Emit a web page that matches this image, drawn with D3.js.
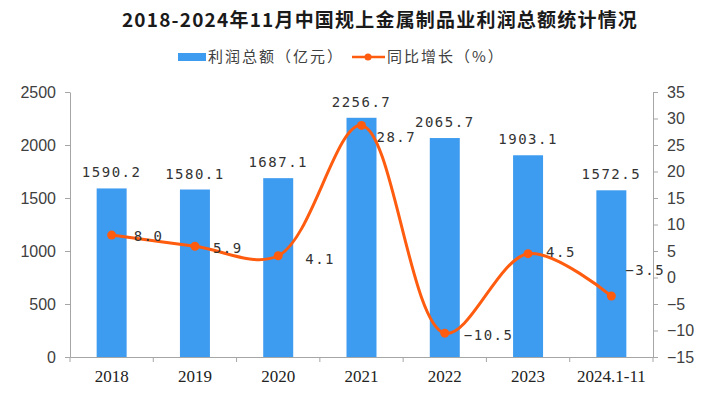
<!DOCTYPE html>
<html>
<head>
<meta charset="utf-8">
<script src="https://cdn.jsdelivr.net/npm/d3@7"></script>
<style>
  body { margin: 0; background: #fff; }
  .axis path, .axis line { stroke: #a6a6a6; }
  .axis text { fill: #404040; }
</style>
</head>
<body>
<div id="chart"></div>
<script>
var categories = ["2018", "2019", "2020", "2021", "2022", "2023", "2024.1-11"];
var profit = [1590.2, 1580.1, 1687.1, 2256.7, 2065.7, 1903.1, 1572.5];
var growth = [8.0, 5.9, 4.1, 28.7, -10.5, 4.5, -3.5];
var leftTicks = [0, 500, 1000, 1500, 2000, 2500];
var rightTicks = [-15, -10, -5, 0, 5, 10, 15, 20, 25, 30, 35];

var width = 714;
var height = 394;
var margin = { left: 70, right: 61, top: 92, bottom: 37 };

var barColor = "#3d9bf0";
var lineColor = "#ff5c0f";

var svg = d3.select("#chart").append("svg")
  .attr("width", width)
  .attr("height", height);

var x = d3.scaleBand()
  .domain(categories)
  .range([margin.left, width - margin.right])
  .paddingInner(0.64)
  .paddingOuter(0.32);

var yLeft = d3.scaleLinear()
  .domain([0, 2500])
  .range([height - margin.bottom, margin.top]);

var yRight = d3.scaleLinear()
  .domain([-15, 35])
  .range([height - margin.bottom, margin.top]);

// title
svg.append("text")
  .attr("x", 380)
  .attr("y", 27)
  .attr("text-anchor", "middle")
  .style("font-family", "'Noto Sans CJK SC', sans-serif")
  .style("font-weight", "bold")
  .style("font-size", "19px")
  .style("letter-spacing", "1.2px")
  .style("fill", "#1a1a1a")
  .text("2018-2024年11月中国规上金属制品业利润总额统计情况");

// legend
var legend = svg.append("g")
  .style("font-family", "'Noto Sans CJK SC', sans-serif")
  .style("font-size", "15px")
  .style("letter-spacing", "2px")
  .style("fill", "#404040");

legend.append("rect")
  .attr("x", 178).attr("y", 53)
  .attr("width", 28).attr("height", 8)
  .attr("fill", barColor);
var barText = legend.append("text")
  .attr("x", 208).attr("y", 62)
  .text("利润总额（亿元）");

var lx = 208 + barText.node().getComputedTextLength() + 8;
legend.append("line")
  .attr("x1", lx).attr("x2", lx + 33)
  .attr("y1", 57).attr("y2", 57)
  .attr("stroke", lineColor).attr("stroke-width", 2.5);
legend.append("circle")
  .attr("cx", lx + 16).attr("cy", 57).attr("r", 3.5)
  .attr("fill", lineColor);
legend.append("text")
  .attr("x", lx + 35).attr("y", 62)
  .text("同比增长（%）");

// axes
var leftAxis = svg.append("g")
  .attr("class", "axis")
  .attr("transform", "translate(" + margin.left + ",0)")
  .call(d3.axisLeft(yLeft).tickValues(leftTicks).tickSize(5).tickPadding(9).tickSizeOuter(0)
    .tickFormat(d3.format("d")));
leftAxis.selectAll("text")
  .style("font-family", "'Liberation Sans', Arial, sans-serif")
  .style("font-size", "16px");

var rightAxis = svg.append("g")
  .attr("class", "axis")
  .attr("transform", "translate(" + (width - margin.right) + ",0)")
  .call(d3.axisRight(yRight).tickValues(rightTicks).tickSize(5).tickPadding(9).tickSizeOuter(0)
    .tickFormat(function(d) { return d < 0 ? "\u2212" + Math.abs(d) : d; }));
rightAxis.selectAll("text")
  .style("font-family", "'Liberation Sans', Arial, sans-serif")
  .style("font-size", "16px");

var bottom = svg.append("g")
  .attr("class", "axis")
  .attr("transform", "translate(0," + (height - margin.bottom) + ")")
  .call(d3.axisBottom(x).tickSize(0).tickPadding(13));
bottom.selectAll("text")
  .style("font-family", "'Liberation Serif', serif")
  .style("font-size", "17px")
  .style("fill", "#222");

// category boundary ticks
var step = x.step();
bottom.selectAll("line.sep")
  .data(d3.range(categories.length + 1))
  .enter().append("line")
    .attr("class", "sep")
    .attr("x1", function(i) { return margin.left + i * step; })
    .attr("x2", function(i) { return margin.left + i * step; })
    .attr("y1", 0)
    .attr("y2", 5);

// bars
svg.selectAll("rect.bar")
  .data(profit)
  .enter().append("rect")
    .attr("class", "bar")
    .attr("x", function(d, i) { return x(categories[i]); })
    .attr("y", function(d) { return yLeft(d); })
    .attr("width", x.bandwidth())
    .attr("height", function(d) { return yLeft(0) - yLeft(d); })
    .attr("fill", barColor);

var labelFont = "'DejaVu Sans Mono', monospace";

svg.selectAll("text.barlabel")
  .data(profit)
  .enter().append("text")
    .attr("class", "barlabel")
    .attr("x", function(d, i) { return x(categories[i]) + x.bandwidth() / 2; })
    .attr("y", function(d) { return yLeft(d) - 11; })
    .attr("text-anchor", "middle")
    .style("font-family", labelFont)
    .style("font-size", "14px")
    .style("letter-spacing", "1.5px")
    .style("fill", "#333")
    .text(function(d) { return d.toFixed(1); });

// growth line
var cx = function(d, i) { return x(categories[i]) + x.bandwidth() / 2; };

var line = d3.line()
  .x(cx)
  .y(function(d) { return yRight(d); })
  .curve(d3.curveCatmullRom.alpha(0.5));

svg.append("path")
  .datum(growth)
  .attr("d", line)
  .attr("fill", "none")
  .attr("stroke", lineColor)
  .attr("stroke-width", 3);

svg.selectAll("circle.pt")
  .data(growth)
  .enter().append("circle")
    .attr("class", "pt")
    .attr("cx", cx)
    .attr("cy", function(d) { return yRight(d); })
    .attr("r", 4.5)
    .attr("fill", lineColor);

// label nudges so they clear the curve
var nudge = [[22, 1], [18, 2], [27, 3], [15, 12], [19, 2], [18, -2], [14, -26]];

svg.selectAll("text.linelabel")
  .data(growth)
  .enter().append("text")
    .attr("class", "linelabel")
    .attr("x", function(d, i) { return cx(d, i) + nudge[i][0]; })
    .attr("y", function(d, i) { return yRight(d) + nudge[i][1] + 5; })
    .style("font-family", labelFont)
    .style("font-size", "14px")
    .style("letter-spacing", "1.5px")
    .style("fill", "#333")
    .text(function(d) { return d < 0 ? "\u2212" + Math.abs(d).toFixed(1) : d.toFixed(1); });
</script>
</body>
</html>
